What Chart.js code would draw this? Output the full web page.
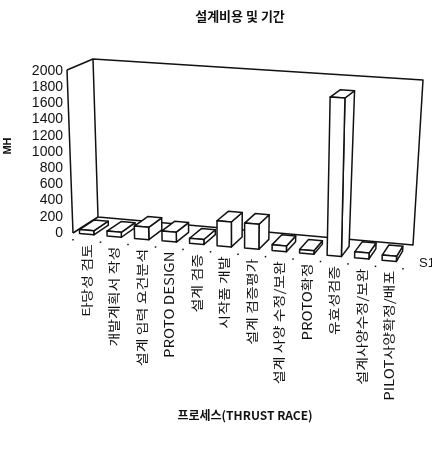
<!DOCTYPE html>
<html>
<head>
<meta charset="utf-8">
<script src="https://cdn.jsdelivr.net/npm/chart.js@4/dist/chart.umd.min.js"></script>
<style>
  html, body { margin: 0; padding: 0; background: #fff; }
  #wrap { width: 432px; height: 456px; }
</style>
</head>
<body>
<div id="wrap"><canvas id="c" width="432" height="456"></canvas></div>
<script>
// Process steps and man-hours per step
const categories = [
  '타당성 검토', '개발계획서 작성', '설계 입력 요건분석', 'PROTO DESIGN',
  '설계 검증', '시작품 개발', '설계 검증평가', '설계 사양 수정/보완',
  'PROTO확정', '유효성검증', '설계사양수정/보완', 'PILOT사양확정/배포'
];
const mhValues = [50, 60, 150, 120, 60, 300, 300, 70, 40, 1880, 70, 60];
const seriesName = 'S1';
const yMin = 0, yMax = 2000, yStep = 200;

const titleText = '설계비용 및 기간';
const xTitleText = '프로세스(THRUST RACE)';
const yTitleText = 'MH';

// Perspective box: front plane (left edge carries the value axis) and back wall
const FRONT = { bl: {x: 73, y: 233}, br: {x: 403, y: 262}, tl: {x: 67, y: 70}, tr: {x: 409, y: 92} };
const BACK  = { bl: {x: 98, y: 217}, br: {x: 413, y: 245}, tl: {x: 93, y: 59}, tr: {x: 423, y: 80} };
const DEPTH_FRONT = 0.0, DEPTH_BACK = 0.6;
const INK = '#111';
const KR = '"Noto Sans CJK KR", "Noto Sans", sans-serif';

function lerp(a, b, t) { return { x: a.x + (b.x - a.x) * t, y: a.y + (b.y - a.y) * t }; }
function quadPt(q, u, v) { return lerp(lerp(q.bl, q.br, u), lerp(q.tl, q.tr, u), v); }
function P(u, v, d) { return lerp(quadPt(FRONT, u, v), quadPt(BACK, u, v), d); }

function poly(ctx, pts, fill) {
  ctx.beginPath();
  ctx.moveTo(pts[0].x, pts[0].y);
  for (let i = 1; i < pts.length; i++) ctx.lineTo(pts[i].x, pts[i].y);
  ctx.closePath();
  if (fill) { ctx.fillStyle = fill; ctx.fill(); }
  ctx.stroke();
}
function line(ctx, a, b) {
  ctx.beginPath(); ctx.moveTo(a.x, a.y); ctx.lineTo(b.x, b.y); ctx.stroke();
}

const box3d = {
  id: 'box3d',
  beforeDatasetsDraw(chart) {
    const ctx = chart.ctx;
    ctx.save();
    ctx.strokeStyle = INK;
    ctx.lineWidth = 1.5;
    ctx.lineJoin = 'round';
    // left side wall
    line(ctx, FRONT.tl, FRONT.bl);
    line(ctx, FRONT.tl, BACK.tl);
    line(ctx, FRONT.bl, BACK.bl);
    // back wall
    poly(ctx, [BACK.bl, BACK.tl, BACK.tr, BACK.br], null);
    ctx.restore();
  },
  afterDatasetsDraw(chart) {
    const ctx = chart.ctx;
    const ca = chart.chartArea;
    const W = ca.right - ca.left, H = ca.bottom - ca.top;
    const meta = chart.getDatasetMeta(0);
    ctx.save();
    ctx.strokeStyle = INK;
    ctx.lineWidth = 1.5;
    ctx.lineJoin = 'round';

    // category tick marks along the front floor edge
    const xs = chart.scales.x;
    ctx.fillStyle = INK;
    for (let i = 0; i <= categories.length; i++) {
      const px = xs.getPixelForValue(i) - (xs.getPixelForValue(1) - xs.getPixelForValue(0)) / 2;
      const p = P((px - ca.left) / W, 0, 0);
      ctx.fillRect(p.x - 0.75, p.y + 6, 1.5, 1.5);
    }

    // columns as boxes
    meta.data.forEach((bar) => {
      const props = bar.getProps(['x', 'y', 'width'], true);
      const uc = (props.x - ca.left) / W;
      const hw = props.width / 2 / W;
      const u0 = uc - hw, u1 = uc + hw;
      const v = (ca.bottom - props.y) / H;
      const d0 = DEPTH_FRONT, d1 = DEPTH_BACK;
      poly(ctx, [P(u1, 0, d0), P(u1, 0, d1), P(u1, v, d1), P(u1, v, d0)], '#fff');
      poly(ctx, [P(u0, v, d0), P(u1, v, d0), P(u1, v, d1), P(u0, v, d1)], '#fff');
      poly(ctx, [P(u0, 0, d0), P(u1, 0, d0), P(u1, v, d0), P(u0, v, d0)], '#fff');
    });

    // category labels, vertical, hanging from the front floor edge
    ctx.fillStyle = INK;
    ctx.font = '12.5px ' + KR;
    ctx.textAlign = 'right';
    ctx.textBaseline = 'middle';
    categories.forEach((label, i) => {
      const p = P((xs.getPixelForValue(i) - ca.left) / W, 0, 0);
      ctx.save();
      ctx.translate(p.x, p.y + 10);
      ctx.rotate(-Math.PI / 2);
      ctx.scale(1.2, 1);
      ctx.fillText(label, 0, 0);
      ctx.restore();
    });

    // titles and series key
    ctx.textAlign = 'center';
    ctx.textBaseline = 'middle';
    ctx.font = 'bold 13px ' + KR;
    ctx.fillText(titleText, 240, 16);
    ctx.font = 'bold 12px ' + KR;
    ctx.fillText(xTitleText, 245, 415);
    ctx.save();
    ctx.translate(8, 146);
    ctx.rotate(-Math.PI / 2);
    ctx.font = 'bold 11px "Liberation Sans", sans-serif';
    ctx.fillText(yTitleText, 0, 0);
    ctx.restore();
    ctx.textAlign = 'left';
    ctx.font = '13px "Liberation Sans", sans-serif';
    ctx.fillText(seriesName, 419, 263);
    ctx.restore();
  }
};

new Chart(document.getElementById('c'), {
  type: 'bar',
  data: {
    labels: categories,
    datasets: [{
      label: seriesName,
      data: mhValues,
      backgroundColor: 'rgba(0,0,0,0)',
      borderWidth: 0,
      categoryPercentage: 1.0,
      barPercentage: 0.52
    }]
  },
  options: {
    responsive: false,
    animation: false,
    devicePixelRatio: 1,
    layout: { padding: { left: 0, top: 71, right: 29, bottom: 223 } },
    plugins: { legend: { display: false }, title: { display: false }, tooltip: { enabled: false } },
    scales: {
      x: { display: false, offset: true },
      y: {
        min: yMin, max: yMax,
        grid: { display: false, drawTicks: false },
        border: { display: false },
        ticks: {
          stepSize: yStep,
          autoSkip: false,
          padding: 4,
          color: INK,
          font: { family: '"Liberation Sans", sans-serif', size: 14 },
          callback: (value) => String(value)
        },
        afterFit(scale) { scale.width = 67; }
      }
    }
  },
  plugins: [box3d]
});
</script>
</body>
</html>
